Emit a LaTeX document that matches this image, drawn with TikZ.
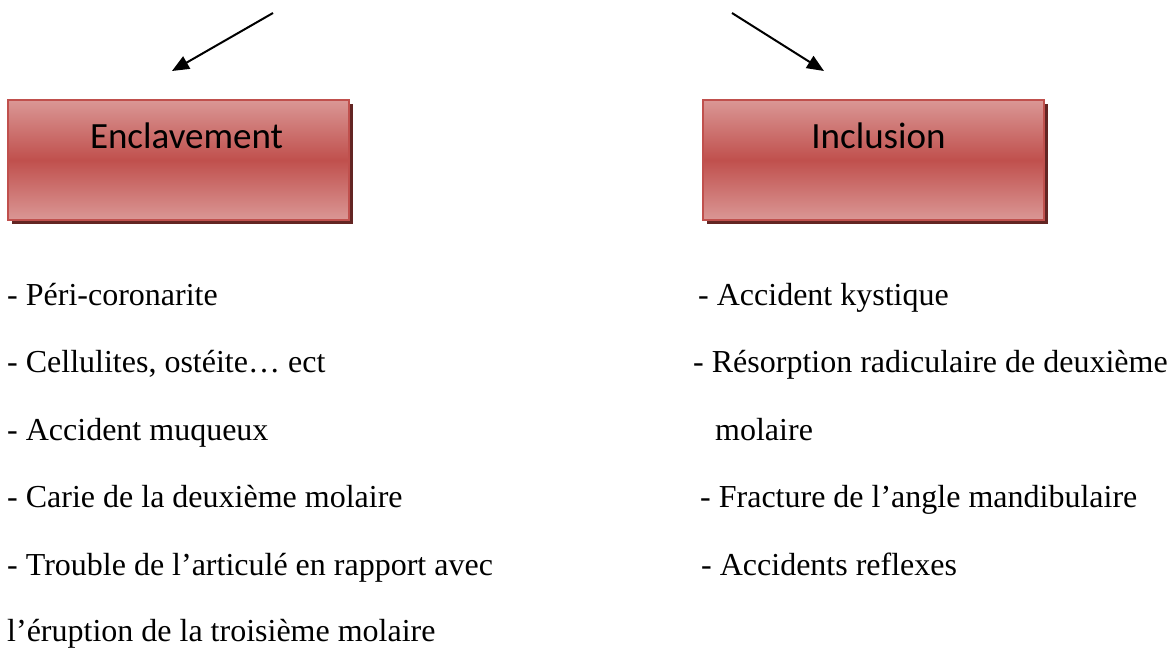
\documentclass[tikz,border=0pt]{standalone}
\usepackage{fontspec}
\setmainfont{Liberation Serif}
\newfontfamily\boxfont{Carlito}
\usetikzlibrary{arrows.meta,shadows}

\definecolor{boxred}{HTML}{C0504D}
\definecolor{boxpink}{HTML}{DA9795}
\definecolor{boxshadow}{HTML}{632523}

\tikzset{
    causebox/.style={
        draw=boxred,
        line width=1.5pt,
        top color=boxpink,
        bottom color=boxpink,
        middle color=boxred,
        minimum width=341pt,
        minimum height=120pt,
        drop shadow={shadow xshift=4pt, shadow yshift=-4pt, fill=boxshadow, opacity=1}
    },
    boxtext/.style={font=\boxfont\fontsize{37}{42}\selectfont, anchor=base, inner sep=0pt},
    itemtext/.style={font=\fontsize{32}{36}\selectfont, anchor=base west, inner sep=0pt},
    pointer/.style={line width=2pt, -{Triangle[length=17pt,width=14pt]}}
}

\begin{document}
\begin{tikzpicture}[x=1pt,y=-1pt]
    \useasboundingbox (0,0) rectangle (1173,657);

    % Boxes:
    \node[causebox] (encl) at (178.5,160) {};
    \node[causebox] (incl) at (873.5,160) {};
    \node[boxtext] (enclt) at (186.5,148) {Enclavement};
    \node[boxtext] (inclt) at (878.5,148) {Inclusion};

    % Arrows:
    \coordinate (lstart) at (273,13);
    \coordinate (ltip) at (172,71);
    \coordinate (rstart) at (732,13);
    \coordinate (rtip) at (824,71);
    \draw[pointer] (lstart) -- (ltip);
    \draw[pointer] (rstart) -- (rtip);

    % Left list
    \foreach \i/\y/\txt in {
        1/305/{- Péri-coronarite},
        2/372/{- Cellulites, ostéite… ect},
        3/440/{- Accident muqueux},
        4/507/{- Carie de la deuxième molaire},
        5/575/{- Trouble de l’articulé en rapport avec},
        6/641/{l’éruption de la troisième molaire}}
    \node[itemtext] (left\i) at (7,\y) {\txt};

    % Right list
    \foreach \i/\x/\y/\txt in {
        1/698/305/{- Accident kystique},
        2/693/372/{- Résorption radiculaire de deuxième},
        3/715/440/{molaire},
        4/700/507/{- Fracture de l’angle mandibulaire},
        5/701/575/{- Accidents reflexes}}
    \node[itemtext] (right\i) at (\x,\y) {\txt};
\end{tikzpicture}
\end{document}
